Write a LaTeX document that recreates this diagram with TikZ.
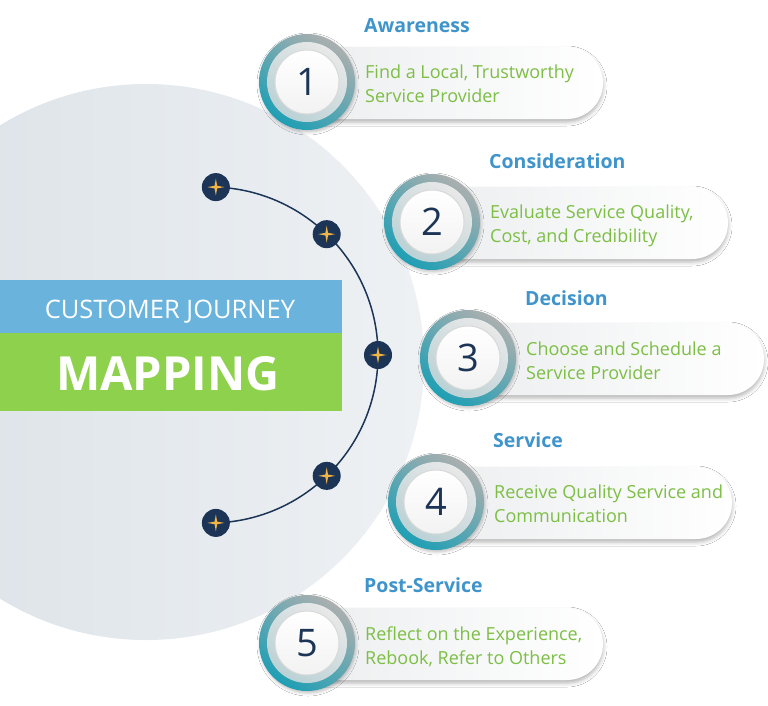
\documentclass[tikz,border=0pt]{standalone}
\usepackage{fontspec}
\setmainfont{Open Sans}
\usetikzlibrary{shadows.blur}
\definecolor{bgL}{HTML}{DAE1E6}
\definecolor{bgR}{HTML}{EEF1F4}
\definecolor{navy}{HTML}{1C3557}
\definecolor{gold}{HTML}{F2B545}
\definecolor{bandblue}{HTML}{69B3DC}
\definecolor{bandgreen}{HTML}{8ED14C}
\definecolor{titleblue}{HTML}{3F94CB}
\definecolor{bodygreen}{HTML}{7DBE45}
\definecolor{ringgray}{HTML}{ABAFAF}
\definecolor{ringmid}{HTML}{98AEB0}
\definecolor{ringteal}{HTML}{1E9FB4}
\definecolor{cardgray}{HTML}{ECEEEF}
\tikzset{
  arcline/.style={draw=navy, line width=1.5pt},
  dot/.style={circle, fill=navy, minimum size=28pt, inner sep=0pt},
  sparkle/.pic={\fill[gold] (0,-8.5) -- (1.3,-1.3) -- (8.5,0) -- (1.3,1.3) -- (0,8.5) -- (-1.3,1.3) -- (-8.5,0) -- (-1.3,-1.3) -- cycle;},
  card/.style={left color=cardgray, right color=white,
    blur shadow={shadow xshift=0pt, shadow yshift=-3pt, shadow blur radius=4pt, shadow opacity=30}},
  ringouter/.style={top color=ringgray, middle color=ringmid, bottom color=ringteal, shading angle=-35,
    blur shadow={shadow xshift=1pt, shadow yshift=-2pt, shadow blur radius=3pt, shadow opacity=25}},
  ringinner/.style={top color=gray!18, bottom color=ringteal!45!gray!40, shading angle=-35},
  disc/.style={top color=white, bottom color=gray!10, draw=gray!30, line width=1pt},
  numtext/.style={text=navy, font=\fontsize{38}{40}\selectfont, inner sep=0pt},
  titletext/.style={text=titleblue, font=\fontsize{19.5}{22}\selectfont\bfseries, inner sep=0pt, anchor=base west},
  bodytext/.style={text=bodygreen, font=\fontsize{18}{20}\selectfont, inner sep=0pt, anchor=base west},
  bandtext/.style={text=white, inner sep=0pt, anchor=base}
}
% #1 name, #2 cx, #3 cy, #4 number, #5 title, #6 title baseline, #7 line1 baseline, #8 line1, #9 line2
\newcommand\journeystep[9]{%
  \path[card] (#2,#3-35) -- (#2+260,#3-35) arc[start angle=-90, end angle=90, radius=36] -- (#2,#3+37) -- cycle;
  \path[ringouter] (#2,#3) circle[radius=48];
  \path[ringinner] (#2,#3) circle[radius=40];
  \path[disc] (#2,#3) circle[radius=32];
  \node[numtext] (#1num) at (#2,#3) {#4};
  \node[titletext] (#1title) at (#2+57,#6) {#5};
  \node[bodytext] (#1a) at (#2+58,#7) {#8};
  \node[bodytext] (#1b) at (#2+58,#7+24.5) {#9};
}
\begin{document}
\begin{tikzpicture}[x=1pt, y=-1pt]
\useasboundingbox (0,0) rectangle (768,705);
\fill[white] (0,0) rectangle (768,705);
\begin{scope}
  \clip (0,0) rectangle (768,705);
  \shade[left color=bgL, right color=bgR] (146,362) circle[radius=278];
\end{scope}
% title bands
\fill[bandblue] (0,280) rectangle (342,333);
\fill[bandgreen] (0,333) rectangle (342,411);
\node[bandtext, font=\fontsize{25.5}{28}\selectfont] (journey) at (170,318) {CUSTOMER JOURNEY};
\node[bandtext, font=\fontsize{47}{50}\selectfont\bfseries] (mapping) at (168,390) {MAPPING};
% arc with dots
\coordinate (arcc) at (210,355);
\draw[arcline] ([shift={(-88:168)}]arcc) arc[start angle=-88, end angle=88, radius=168];
\foreach \a/\n in {-88/d1,-46/d2,0/d3,46/d4,88/d5}{
  \node[dot] (\n) at ([shift={(\a:168)}]arcc) {};
  \pic at (\n) {sparkle};
}
% steps
\journeystep{s1}{307}{82}{1}{Awareness}{32}{78}{Find a Local, Trustworthy}{Service Provider}
\journeystep{s2}{432}{222}{2}{Consideration}{168}{218}{Evaluate Service Quality,}{Cost, and Credibility}
\journeystep{s3}{468}{358}{3}{Decision}{305}{355}{Choose and Schedule a}{Service Provider}
\journeystep{s4}{436}{502}{4}{Service}{447}{498}{Receive Quality Service and}{Communication}
\journeystep{s5}{307}{643}{5}{Post-Service}{592}{640}{Reflect on the Experience,}{Rebook, Refer to Others}
\end{tikzpicture}
\end{document}
